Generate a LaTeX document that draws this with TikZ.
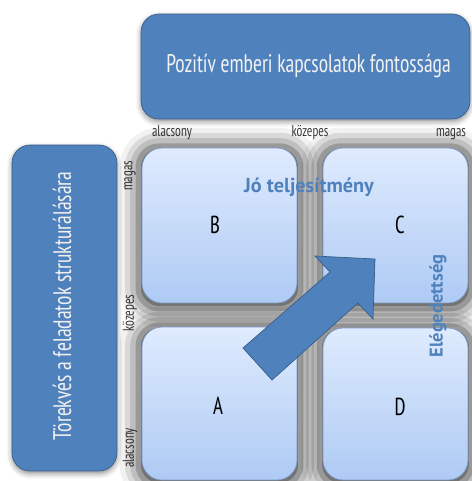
\documentclass[tikz,border=0pt]{standalone}
\usepackage{fontspec}
\setmainfont[FakeStretch=0.85]{PT Sans Narrow}
\newfontfamily\widefont{PT Sans}
\usetikzlibrary{shadows.blur}
\definecolor{hdrblue}{HTML}{4F81BD}
\definecolor{hdredge}{HTML}{385D8A}
\definecolor{celltop}{HTML}{DFEBFE}
\definecolor{cellbot}{HTML}{AECAF4}
\definecolor{celledge}{HTML}{7D9BC9}
\definecolor{axisgray}{HTML}{3C3C3C}
\tikzset{hdr/.style={draw=hdredge, fill=hdrblue, rounded corners=0.36cm, inner sep=0pt,
  blur shadow={shadow xshift=0pt, shadow yshift=-1.5pt, shadow blur radius=3pt, shadow opacity=45}}}
\tikzset{hdrtext/.style={text=white!94!black, font=\fontsize{14.5}{14.5}\selectfont}}
\tikzset{cell/.style={draw=celledge, top color=celltop, bottom color=cellbot, rounded corners=0.4cm,
  inner sep=0pt,
  blur shadow={shadow xshift=0pt, shadow yshift=-1pt, shadow scale=1.05, shadow blur radius=10pt, shadow opacity=80}}}
\tikzset{lbl/.style={font=\fontsize{14}{14}\selectfont}}
\tikzset{ax/.style={font=\fontsize{9}{9}\selectfont, text=axisgray, inner sep=0pt}}
\tikzset{big/.style={text=hdrblue, inner sep=0pt}}
\tikzset{arr/.style={draw=hdredge, fill=hdrblue, line join=miter}}

\begin{document}
\begin{tikzpicture}[x=0.02cm, y=-0.02cm]
  \useasboundingbox (0,0) rectangle (471,481);
  % headings
  \node[hdr, minimum width=6.58cm, minimum height=2.1cm] (rel) at (305.5,66.5) {};
  \node[hdrtext] (reltext) at (308.5,66) {Pozitív emberi kapcsolatok fontossága};
  \node[hdr, minimum width=2.1cm, minimum height=6.52cm] (task) at (64.5,308) {};
  \node[hdrtext, rotate=90] (tasktext) at (62,306) {Törekvés a feladatok strukturálására};
  % axis labels
  \node[ax] (xlow) at (172,133) {alacsony};
  \node[ax] (xmid) at (310,133) {közepes};
  \node[ax] (xhigh) at (451,134) {magas};
  \node[ax, rotate=90] (ylow) at (130,448) {alacsony};
  \node[ax, rotate=90] (ymid) at (130,313) {közepes};
  \node[ax, rotate=90] (yhigh) at (130,176) {magas};
  % grid cells
  \node[cell, minimum width=3.1cm, minimum height=3.1cm] (B) at (219.5,225.5) {};
  \node[cell, minimum width=2.9cm, minimum height=3.1cm] (C) at (395.5,225.5) {};
  \node[cell, minimum width=3.1cm, minimum height=3.06cm] (A) at (219.5,403.5) {};
  \node[cell, minimum width=2.9cm, minimum height=3.04cm] (D) at (395.5,404) {};
  \node[lbl] (Bl) at (215,225) {B};
  \node[lbl] (Cl) at (400,225) {C};
  \node[lbl] (Al) at (218,406) {A};
  \node[lbl] (Dl) at (400,407) {D};
  % arrow A -> C
  \draw[arr] (243,348) -- (330,272) -- (315,256) -- (375,259) -- (373,319) -- (358,303) -- (272,380) -- cycle;
  \node[big, font=\widefont\bfseries\fontsize{11.5}{11.5}\selectfont] (perf) at (309,187) {Jó teljesítmény};
  \node[big, font=\widefont\bfseries\fontsize{10.5}{10.5}\selectfont, rotate=90] (sat) at (438,306) {Elégedettség};
\end{tikzpicture}
\end{document}
